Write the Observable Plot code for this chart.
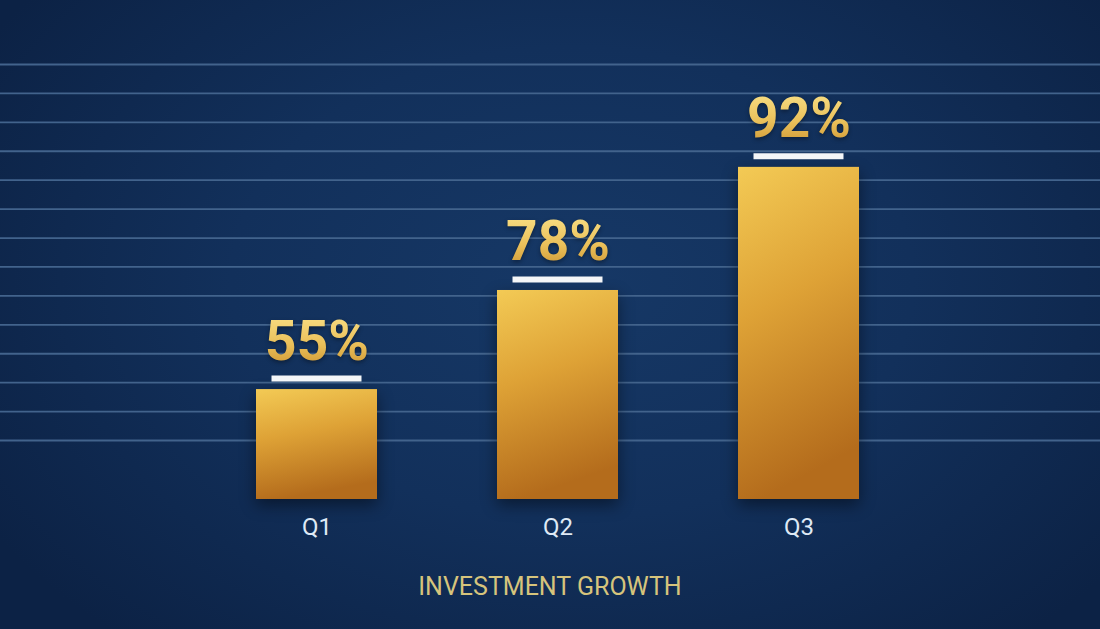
<!DOCTYPE html>
<html><head><meta charset="utf-8">
<script src="https://cdn.jsdelivr.net/npm/d3@7"></script>
<script src="https://cdn.jsdelivr.net/npm/@observablehq/plot@0.6"></script>
<style>
html,body{margin:0;padding:0;}
body{width:1100px;height:629px;overflow:hidden;position:relative;font-family:Roboto,sans-serif;
  background: radial-gradient(ellipse 62% 75% at 52% 45%, #163866 0%, #12305b 50%, #0c2245 100%);}
#grid,#chart{position:absolute;left:0;top:0;}
#caption{position:absolute;left:0;width:1100px;top:575px;text-align:center;font-size:25px;line-height:24px;color:#d6c47c;font-family:Roboto,sans-serif;}
svg{display:block;}
</style></head><body>
<div id="grid"></div><div id="chart"></div><div id="caption"></div>
<script>
const quarters = ["Q1", "Q2", "Q3"];
const growth = [55, 78, 92];
const growthLabels = ["55%", "78%", "92%"];
const gridLevels = [0, 1, 2, 3, 4, 5, 6, 7, 8, 9, 10, 11, 12, 13];
const captionText = "INVESTMENT GROWTH";
const yBase = -68.3;

const rows = quarters.map((q, i) => ({quarter: q, value: growth[i], label: growthLabels[i]}));

const defs = () => {
  const g = document.createElementNS("http://www.w3.org/2000/svg", "g");
  g.innerHTML = `<defs>
    <linearGradient id="barGold" x1="0" y1="0" x2="0.2" y2="1">
      <stop offset="0" stop-color="#f3ca55"/>
      <stop offset="0.45" stop-color="#dea236"/>
      <stop offset="1" stop-color="#b46c1c"/>
    </linearGradient>
    <linearGradient id="textGold" x1="0" y1="0" x2="0" y2="1">
      <stop offset="0" stop-color="#fbe48c"/>
      <stop offset="0.55" stop-color="#eac05a"/>
      <stop offset="1" stop-color="#c98f2c"/>
    </linearGradient></defs>`;
  return g;
};

const grid = Plot.plot({
  width: 1100, height: 629,
  marginLeft: 0, marginRight: 0, marginTop: 64, marginBottom: 189,
  style: {background: "transparent"},
  y: {domain: [0, 13], axis: null},
  marks: [Plot.ruleY(gridLevels, {stroke: "#42638c", strokeWidth: 1.8})]
});
document.getElementById("grid").append(grid);

const chart = Plot.plot({
  width: 1100, height: 545,
  marginTop: 66, marginBottom: 46, marginLeft: 135, marginRight: 121,
  style: {background: "transparent", overflow: "visible", fontFamily: "Roboto, sans-serif"},
  x: {domain: quarters, padding: 0.5},
  y: {type: "pow", exponent: 4, domain: [yBase, 100], axis: null},
  marks: [
    defs,
    Plot.barY(rows, {x: "quarter", y1: () => yBase, y2: "value", fill: "url(#barGold)"}),
    Plot.tickY(rows, {x: "quarter", y: "value", dy: -11, stroke: "#f4f6f8", strokeWidth: 6, insetLeft: 15.5, insetRight: 15.5}),
    Plot.text(rows, {x: "quarter", y: "value", text: "label", dy: -30, lineAnchor: "bottom", fontSize: 55, fontWeight: 700, fill: "url(#textGold)"}),
    Plot.axisX({tickSize: 0, tickPadding: 18, fontSize: 24, fill: "#dfe9f5", label: null})
  ]
});
d3.select(chart).selectAll("g[aria-label=bar]").style("filter", "drop-shadow(0px 6px 8px rgba(0,0,0,0.45))");
d3.select(chart).selectAll("g[aria-label=text]").style("filter", "drop-shadow(0px 2px 2px rgba(0,0,0,0.35))");
document.getElementById("chart").append(chart);
document.getElementById("caption").textContent = captionText;
</script>
</body></html>
